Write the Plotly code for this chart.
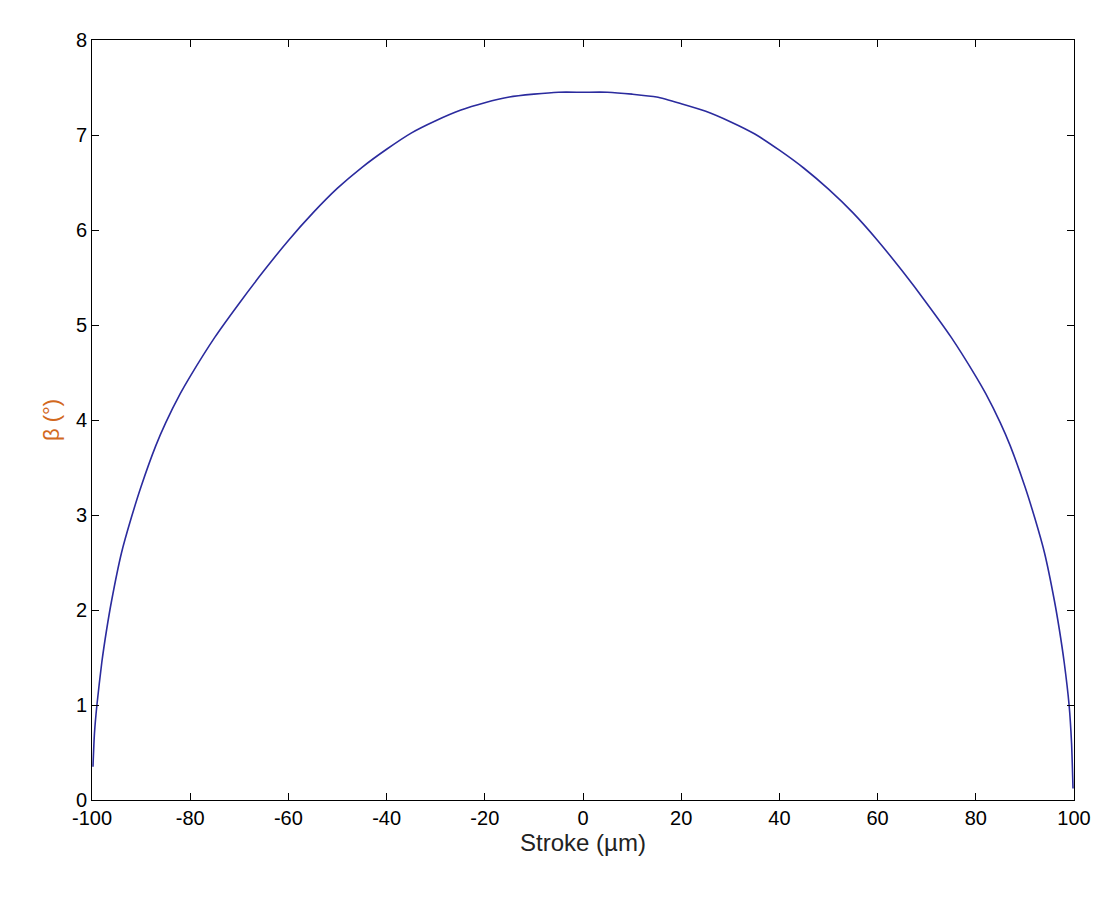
import plotly.graph_objects as go

stroke = [-99.8, -99.5, -99, -98, -97, -96, -94, -92, -90, -87, -85, -82, -80, -75, -70, -65, -60, -55, -50,
          -45, -40, -35, -30, -25, -20, -15, -10, -5, 0,
          5, 10, 15, 20, 25, 30, 35, 40, 45, 50, 55, 60, 65, 70, 75, 80, 82, 85, 87, 90, 92, 94, 96, 97, 98, 99, 99.5, 99.8]
beta = [0.35, 0.7, 1.0, 1.45, 1.8, 2.1, 2.6, 2.97, 3.3, 3.73, 3.97, 4.28, 4.46, 4.87, 5.23, 5.57, 5.89, 6.18, 6.44,
        6.66, 6.85, 7.02, 7.15, 7.26, 7.34, 7.40, 7.43, 7.45, 7.45,
        7.45, 7.43, 7.40, 7.33, 7.25, 7.14, 7.01, 6.84, 6.65, 6.43, 6.18, 5.89, 5.57, 5.23, 4.87, 4.46, 4.28, 3.97, 3.73, 3.3, 2.97, 2.6, 2.1, 1.8, 1.45, 1.0, 0.6, 0.12]
xticks = list(range(-100, 101, 20))
xticktext = [str(v) for v in xticks]
yticks = list(range(0, 9))

fig = go.Figure(go.Scatter(x=stroke, y=beta, mode="lines", line=dict(color="#2b2b9e", width=1.6, shape="spline", smoothing=0.6)))
axis = dict(showline=True, linecolor="black", linewidth=1, mirror="ticks", ticks="inside", ticklen=7,
            tickcolor="black", showgrid=False, zeroline=False, tickfont=dict(size=20, color="black"))
fig.update_xaxes(range=[-100, 100], tickvals=xticks, ticktext=xticktext,
                 title=dict(text="Stroke (µm)", font=dict(size=24, color="#222"), standoff=4), **axis)
fig.update_yaxes(range=[0, 8], tickvals=yticks, title=dict(text="β (°)", font=dict(size=22, color="#d2691e"), standoff=10), **axis)
fig.update_layout(width=1117, height=909, margin=dict(l=84, r=51, t=32, b=117),
                  plot_bgcolor="white", paper_bgcolor="white", showlegend=False,
                  font=dict(family="Liberation Sans, Arial"))
fig.write_html("out.html")
